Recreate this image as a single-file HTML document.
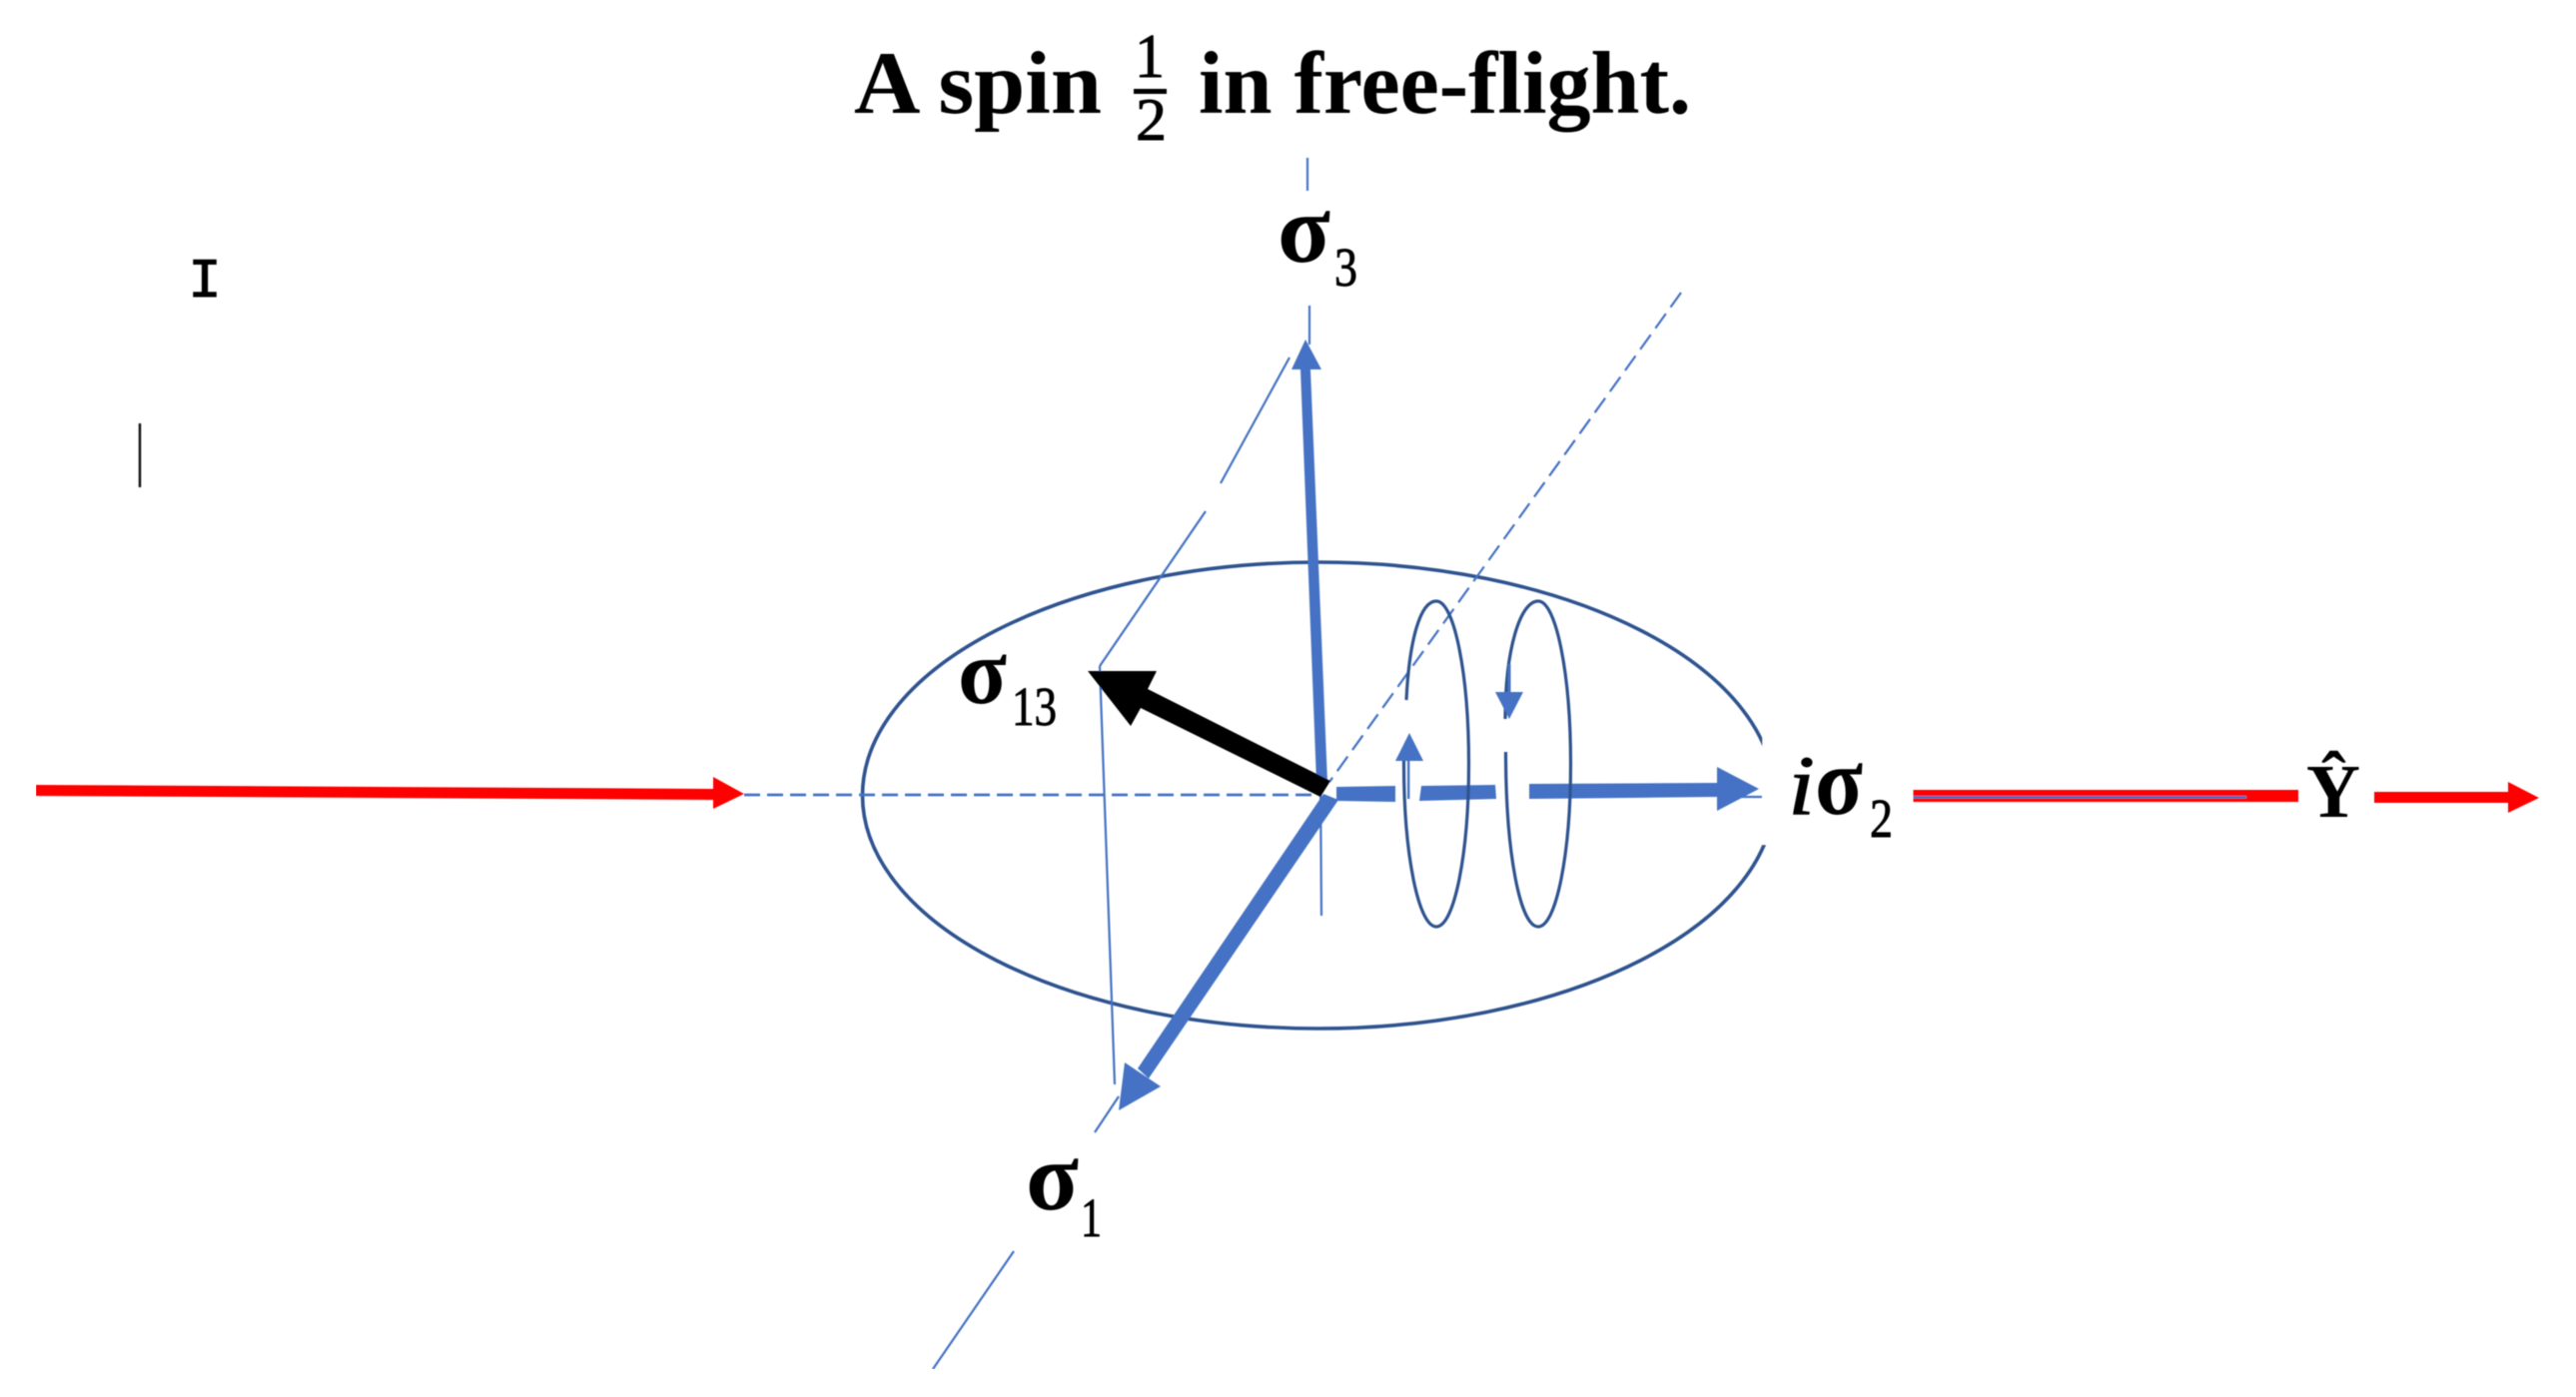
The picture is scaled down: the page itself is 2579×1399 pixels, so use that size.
<!DOCTYPE html>
<html lang="en">
<head>
<meta charset="utf-8">
<title>A spin 1/2 in free-flight</title>
<style>
html,body{margin:0;padding:0;background:#fff;width:2579px;height:1399px;overflow:hidden}
svg{display:block}
text{font-family:"Liberation Serif",serif;fill:#000}
.b{font-weight:bold}
.s{stroke:#000;stroke-width:.9}
</style>
</head>
<body>
<svg width="2579" height="1399" viewBox="0 0 2579 1399" xmlns="http://www.w3.org/2000/svg">
<defs><filter id="soft" x="0" y="0" width="100%" height="100%"><feGaussianBlur stdDeviation="0.6"/></filter></defs>
<rect width="2579" height="1399" fill="#fff"/>
<g filter="url(#soft)">

<!-- Title -->
<text class="b" x="855" y="113" font-size="89" textLength="248" lengthAdjust="spacingAndGlyphs">A spin</text>
<text class="s" x="1136" y="77" font-size="62" textLength="30" lengthAdjust="spacingAndGlyphs">1</text>
<rect x="1135" y="89" width="33" height="5" fill="#000"/>
<text class="s" x="1137" y="140" font-size="60" textLength="31" lengthAdjust="spacingAndGlyphs">2</text>
<text class="b" x="1200" y="113" font-size="89" textLength="493" lengthAdjust="spacingAndGlyphs">in free-flight.</text>

<!-- Left stray marks -->
<text x="205" y="297" font-size="56" text-anchor="middle" style="font-family:'Liberation Mono',monospace;stroke:#000;stroke-width:1">I</text>
<line x1="140" y1="424" x2="140" y2="488" stroke="#111" stroke-width="2.4"/>

<!-- Main ellipse with gap at the right -->
<ellipse cx="1320" cy="796.5" rx="456.5" ry="233.5" fill="none" stroke="#2f528f" stroke-width="3.6"/>
<rect x="1764.5" y="738" width="30" height="108" fill="#fff"/>

<!-- Thin lines -->
<g fill="none" stroke="#4472c4" stroke-width="2.2">
  <line x1="1309" y1="158" x2="1309" y2="191"/>
  <line x1="1311" y1="306" x2="1311" y2="345"/>
  <line x1="1291" y1="358" x2="1222" y2="484"/>
  <line x1="1207" y1="512" x2="1101" y2="667"/>
  <line x1="1101" y1="667" x2="1116" y2="1086"/>
  <line x1="1322" y1="780" x2="1323" y2="917"/>
  <line x1="1683" y1="293" x2="1331" y2="783" stroke-dasharray="18 8"/>
  <line x1="745" y1="796" x2="1321" y2="796" stroke-width="2.8" stroke-dasharray="16 7"/>
  <line x1="1725" y1="798" x2="1764" y2="798"/>
  <line x1="1120" y1="1098" x2="1096" y2="1134"/>
  <line x1="1015" y1="1253" x2="934" y2="1371"/>
</g>

<!-- Blue axes -->
<g fill="#4472c4">
  <polygon points="1302,370 1312,370 1329,783 1318,783"/>
  <polygon points="1307,340 1323,370 1293,370"/>
  <polygon points="1325,795 1340,801 1150,1080 1139,1070"/>
  <polygon points="1120,1112 1126,1064 1162,1088"/>
  <polygon points="1338,788 1397,787 1397,803 1338,802"/>
  <polygon points="1423,787 1497,786 1498,800 1421,802"/>
  <polygon points="1531,785 1719,784 1719,798 1531,800"/>
  <polygon points="1719,768 1761,790 1719,812"/>
</g>

<!-- Black arrow -->
<polygon points="1089,672 1158,672 1149,690 1332,782 1322,798 1142,709 1132,727" fill="#000"/>

<!-- Inner loops -->
<g fill="none" stroke="#2f528f" stroke-width="3.2">
  <path d="M1408 701 C1411 640 1422 602 1438 602 C1456 602 1470.5 675 1470.5 765 C1470.5 855 1456 928 1438 928 C1420 928 1405.5 855 1405.5 765 L1405.5 762"/>
  <path d="M1507 720 C1507 650 1522 602 1540 602 C1558 602 1572.5 675 1572.5 765 C1572.5 855 1558 928 1540 928 C1522 928 1507.5 855 1507.5 753"/>
</g>
<g fill="#4472c4">
  <polygon points="1411,734 1425,762 1397,762"/>
  <rect x="1409" y="762" width="2.4" height="38"/>
  <polygon points="1497,693 1525,693 1511,720"/>
  <rect x="1509.5" y="665" width="3" height="28"/>
</g>

<!-- Red axis -->
<g fill="#f00">
  <polygon points="36,786 714,790 714,801 36,797"/>
  <polygon points="714,778 745,795 714,810"/>
  <rect x="1915.5" y="791" width="385.5" height="12"/>
  <polygon points="2377,793 2511,793 2511,804 2377,804"/>
  <polygon points="2511,783 2542,799 2511,814"/>
</g>
<rect x="1915.5" y="797" width="333.5" height="2.6" fill="#4472c4"/>

<!-- Labels -->
<text class="b" x="1279" y="262" font-size="97" textLength="53" lengthAdjust="spacingAndGlyphs">σ</text>
<text class="s" x="1336" y="286" font-size="55" textLength="23" lengthAdjust="spacingAndGlyphs">3</text>

<text class="b" x="959" y="704" font-size="93" textLength="49" lengthAdjust="spacingAndGlyphs">σ</text>
<text class="s" x="1013" y="726" font-size="55" textLength="45" lengthAdjust="spacingAndGlyphs">13</text>

<text class="b" x="1027" y="1211" font-size="97" textLength="53" lengthAdjust="spacingAndGlyphs">σ</text>
<text class="s" x="1082" y="1238" font-size="55" textLength="21" lengthAdjust="spacingAndGlyphs">1</text>

<text class="s" x="1790" y="815" font-size="85" font-style="italic" textLength="27" lengthAdjust="spacingAndGlyphs">i</text>
<text class="b" x="1817" y="815" font-size="97" textLength="48" lengthAdjust="spacingAndGlyphs">σ</text>
<text class="s" x="1872" y="838" font-size="55" textLength="23" lengthAdjust="spacingAndGlyphs">2</text>

<text class="b" x="2309" y="818" font-size="76" textLength="54" lengthAdjust="spacingAndGlyphs">Ŷ</text>
</g>
</svg>
</body>
</html>
